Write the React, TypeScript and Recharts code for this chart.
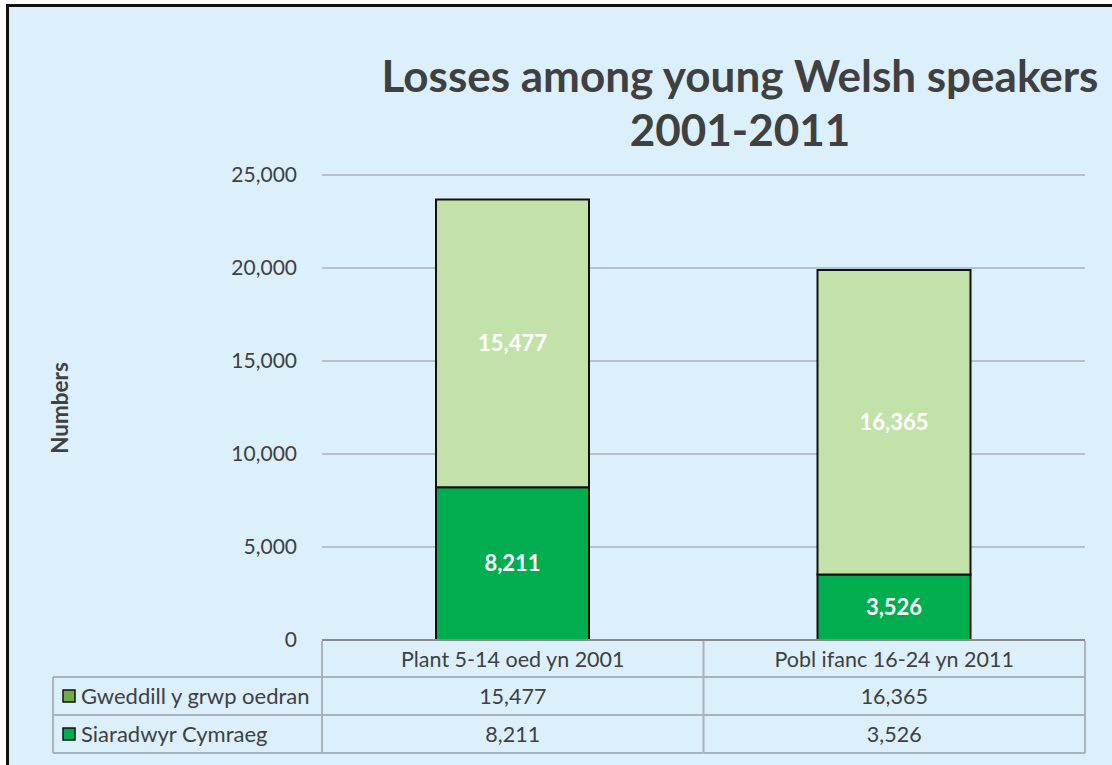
import { Bar, BarChart, CartesianGrid, LabelList, XAxis, YAxis } from "recharts";

const categories = ["Plant 5-14 oed yn 2001", "Pobl ifanc 16-24 yn 2011"];
const welshSpeakers = [8211, 3526];
const restOfAgeGroup = [15477, 16365];
const yTicks = [0, 5000, 10000, 15000, 20000, 25000];

const SPEAKERS_NAME = "Siaradwyr Cymraeg";
const REST_NAME = "Gweddill y grwp oedran";

const W = 1112;
const H = 765;
const PLOT_LEFT = 322;
const PLOT_RIGHT = 1085;
const PLOT_TOP = 175;
const PLOT_BOTTOM = 640;
const FONT = "Lato, 'Open Sans', sans-serif";
const TEXT = "#404040";
const GRID = "#AAB3BB";
const DARK = "#00AD4F";
const LIGHT = "#C2E2AA";
const LEGEND_LIGHT = "#70AD47";

const data = categories.map((name, i) => ({
  name,
  speakers: welshSpeakers[i],
  rest: restOfAgeGroup[i],
}));

const rows = [
  { name: REST_NAME, key: "rest", swatch: LEGEND_LIGHT },
  { name: SPEAKERS_NAME, key: "speakers", swatch: DARK },
];

const fmt = (v: number) => v.toLocaleString("en-US");

// header row + two value rows under the axis
const ROW_TOPS = [641, 677, 715, 753];

function TableTick(props: any) {
  const { x, payload, index } = props;
  const colW = (PLOT_RIGHT - PLOT_LEFT) / categories.length;
  const left = x - colW / 2;
  const right = x + colW / 2;
  const item = data[index];
  return (
    <g>
      <line x1={right} x2={right} y1={ROW_TOPS[0]} y2={ROW_TOPS[3]} stroke={GRID} strokeWidth={2} />
      {ROW_TOPS.slice(1).map((y) => (
        <line key={y} x1={left} x2={right} y1={y} y2={y} stroke={GRID} strokeWidth={2} />
      ))}
      <text x={x} y={(ROW_TOPS[0] + ROW_TOPS[1]) / 2} dy="0.35em" textAnchor="middle" fill={TEXT} fontSize={21.5} fontFamily={FONT}>
        {payload.value}
      </text>
      {rows.map((r, ri) => (
        <text
          key={r.key}
          x={x}
          y={(ROW_TOPS[ri + 1] + ROW_TOPS[ri + 2]) / 2}
          dy="0.35em"
          textAnchor="middle"
          fill={TEXT}
          fontSize={21.5}
          fontFamily={FONT}
        >
          {fmt((item as any)[r.key])}
        </text>
      ))}
      {index === 0 && (
        <g>
          <line x1={left} x2={left} y1={ROW_TOPS[0]} y2={ROW_TOPS[3]} stroke={GRID} strokeWidth={2} />
          <line x1={53} x2={53} y1={ROW_TOPS[1]} y2={ROW_TOPS[3]} stroke={GRID} strokeWidth={2} />
          {ROW_TOPS.slice(1).map((y) => (
            <line key={y} x1={53} x2={left} y1={y} y2={y} stroke={GRID} strokeWidth={2} />
          ))}
          {rows.map((r, ri) => {
            const cy = (ROW_TOPS[ri + 1] + ROW_TOPS[ri + 2]) / 2;
            return (
              <g key={r.key}>
                <rect x={63} y={cy - 6} width={12} height={12} fill={r.swatch} stroke="#111" strokeWidth={1.5} />
                <text x={81} y={cy} dy="0.35em" fill={TEXT} fontSize={22} fontFamily={FONT}>
                  {r.name}
                </text>
              </g>
            );
          })}
        </g>
      )}
    </g>
  );
}

function YLabel() {
  return (
    <text
      x={60}
      y={408}
      transform="rotate(-90 60 408)"
      textAnchor="middle"
      dy="0.35em"
      fill={TEXT}
      fontSize={22.5}
      fontWeight={700}
      fontFamily={FONT}
    >
      Numbers
    </text>
  );
}

export default function App() {
  return (
    <div style={{ position: "absolute", left: 0, top: 0, width: W, height: H, overflow: "hidden", background: "#fff" }}>
      <div
        style={{
          position: "absolute",
          left: 6,
          top: 4,
          width: 1200,
          height: 900,
          border: "3px solid #111",
          background: "#DCF0FB",
        }}
      />
      <div
        style={{
          position: "absolute",
          left: 340,
          top: 48,
          width: 800,
          textAlign: "center",
          fontFamily: FONT,
          fontWeight: 700,
          fontSize: 44,
          lineHeight: "54px",
          color: TEXT,
        }}
      >
        Losses among young Welsh speakers
        <br />
        2001-2011
      </div>
      <div style={{ position: "absolute", left: 0, top: 0 }}>
        <BarChart
          width={W}
          height={H}
          data={data}
          margin={{ top: PLOT_TOP, right: W - PLOT_RIGHT, bottom: 0, left: 0 }}
        >
          <CartesianGrid vertical={false} stroke={GRID} strokeWidth={1.5} />
          <XAxis
            dataKey="name"
            height={H - PLOT_BOTTOM}
            interval={0}
            tickLine={false}
            axisLine={{ stroke: "#8A8A8A", strokeWidth: 2 }}
            tick={<TableTick />}
          />
          <YAxis
            width={PLOT_LEFT}
            domain={[0, 25000]}
            ticks={yTicks}
            axisLine={false}
            tickLine={false}
            tickMargin={19}
            tickFormatter={fmt}
            tick={{ fill: TEXT, fontSize: 21, fontFamily: FONT }}
            label={<YLabel />}
          />
          <Bar dataKey="speakers" name={SPEAKERS_NAME} stackId="a" fill={DARK} stroke="#111" strokeWidth={2} barSize={153} isAnimationActive={false}>
            <LabelList dataKey="speakers" position="center" formatter={(v: any) => fmt(Number(v))} fill="#fff" fontSize={22} fontWeight={700} fontFamily={FONT} />
          </Bar>
          <Bar dataKey="rest" name={REST_NAME} stackId="a" fill={LIGHT} stroke="#111" strokeWidth={2} barSize={153} isAnimationActive={false}>
            <LabelList dataKey="rest" position="center" formatter={(v: any) => fmt(Number(v))} fill="#fff" fontSize={22} fontWeight={700} fontFamily={FONT} />
          </Bar>
        </BarChart>
      </div>
    </div>
  );
}
